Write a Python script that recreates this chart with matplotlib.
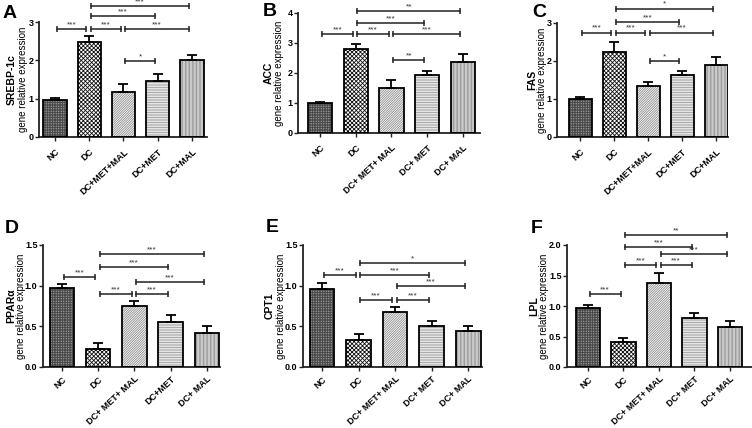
import numpy as np
import matplotlib
matplotlib.use('Agg')
import matplotlib.pyplot as plt
from matplotlib.transforms import offset_copy

plt.rcParams['font.family'] = ['Liberation Sans', 'DejaVu Sans']
plt.rcParams['hatch.linewidth'] = 0.6

# Daten
labels_plain = ['NC', 'DC', 'DC+MET+MAL', 'DC+MET', 'DC+MAL']
labels_spaced = ['NC', 'DC', 'DC+ MET+ MAL', 'DC+ MET', 'DC+ MAL']
labels_d = ['NC', 'DC', 'DC+ MET+ MAL', 'DC+MET', 'DC+ MAL']

srebp_mean = [0.97, 2.48, 1.18, 1.47, 2.02]
srebp_sem = [0.04, 0.15, 0.20, 0.17, 0.13]
acc_mean = [1.00, 2.80, 1.50, 1.95, 2.38]
acc_sem = [0.05, 0.17, 0.28, 0.13, 0.24]
fas_mean = [1.00, 2.23, 1.33, 1.62, 1.90]
fas_sem = [0.05, 0.27, 0.13, 0.12, 0.20]
ppar_mean = [0.97, 0.22, 0.75, 0.55, 0.42]
ppar_sem = [0.05, 0.08, 0.06, 0.09, 0.09]
cpt_mean = [0.96, 0.33, 0.68, 0.51, 0.44]
cpt_sem = [0.07, 0.08, 0.06, 0.06, 0.07]
lpl_mean = [0.97, 0.41, 1.37, 0.80, 0.65]
lpl_sem = [0.05, 0.07, 0.17, 0.09, 0.11]

# Signifikanz: (gruppe1, gruppe2, hoehe, sterne)
srebp_sig = [(0, 1, 2.81, '***'), (1, 2, 2.81, '***'), (2, 4, 2.81, '***'),
             (1, 3, 3.15, '***'), (1, 4, 3.41, '***'), (2, 3, 1.97, '*')]
acc_sig = [(0, 1, 3.30, '***'), (1, 2, 3.30, '***'), (2, 4, 3.30, '***'),
           (1, 3, 3.66, '***'), (1, 4, 4.08, '**'), (2, 3, 2.44, '**')]
fas_sig = [(0, 1, 2.75, '***'), (1, 2, 2.75, '***'), (2, 4, 2.75, '***'),
           (1, 3, 3.03, '***'), (1, 4, 3.38, '*'), (2, 3, 1.99, '*')]
ppar_sig = [(0, 1, 1.11, '***'), (1, 2, 0.90, '***'), (2, 3, 0.90, '***'),
            (1, 3, 1.23, '***'), (2, 4, 1.04, '***'), (1, 4, 1.39, '***')]
cpt_sig = [(0, 1, 1.13, '***'), (1, 2, 0.82, '***'), (2, 3, 0.82, '***'),
           (2, 4, 1.00, '***'), (1, 3, 1.13, '***'), (1, 4, 1.28, '*')]
lpl_sig = [(0, 1, 1.19, '***'), (1, 2, 1.67, '***'), (2, 3, 1.67, '***'),
           (2, 4, 1.85, '***'), (1, 3, 1.96, '***'), (1, 4, 2.16, '**')]

# Muster je Gruppe
hatches = ['++++++++++', 'xxxxxxxx', '//////////////', '----------', '||||||||||||']
hatch_colors = ['#4a4a4a', '#111111', '#8a8a8a', '#9a9a9a', '#8a8a8a']
face_colors = ['#d4d4d4', 'white', 'white', 'white', 'white']

W, H = 752, 428


def px_axes(fig, l, r, b, t):
    return fig.add_axes([l / W, 1 - b / H, (r - l) / W, (b - t) / H])


def draw_panel(ax, mean, sem, labels, ylim, yticks, gene, sig, xlim, lab_dx, xpad=4.5):
    x = np.arange(len(mean))
    for i in range(len(mean)):
        ax.bar(x[i], mean[i], width=0.68, color=face_colors[i], hatch=hatches[i],
               edgecolor=hatch_colors[i], linewidth=0, zorder=2)
    ax.bar(x, mean, width=0.68, facecolor='none', edgecolor='black', linewidth=1.3, zorder=3)
    ax.errorbar(x, mean, yerr=[np.zeros(len(sem)), sem], fmt='none', ecolor='black',
                elinewidth=1.3, capsize=3.5, capthick=1.3, zorder=4)

    for i, j, y, star in sig:
        x1, x2 = i + 0.05, j - 0.08
        ax.plot([x1, x2], [y, y], color='#222222', lw=1.1, marker='|', ms=5,
                mew=1.1, clip_on=False, zorder=5)
        ax.annotate(star, xy=((x1 + x2) / 2, y), xytext=(0, 0.5), textcoords='offset points',
                    ha='center', va='bottom', fontsize=6, color='#333333',
                    annotation_clip=False)

    ax.set_xlim(xlim)
    ax.set_ylim(ylim)
    ax.set_yticks(yticks)
    ax.set_yticklabels([str(t) for t in yticks], fontsize=6.5, fontweight='bold')
    ax.set_xticks(x)
    ax.set_xticklabels(labels, rotation=43, ha='right', rotation_mode='anchor',
                       fontsize=6.5, fontweight='bold')
    for s in ['top', 'right']:
        ax.spines[s].set_visible(False)
    for s in ['left', 'bottom']:
        ax.spines[s].set_linewidth(1.3)
        ax.spines[s].set_color('#222222')
    ax.tick_params(axis='y', length=3, width=1, color='#222222', pad=1)
    ax.tick_params(axis='x', length=3, width=1, color='#222222', pad=xpad)
    ax.patch.set_alpha(0)

    fig = ax.figure
    t1 = offset_copy(ax.transAxes, fig=fig, x=lab_dx[0], y=0, units='dots')
    t2 = offset_copy(ax.transAxes, fig=fig, x=lab_dx[1], y=0, units='dots')
    ax.text(0, 0.5, 'gene relative expression', transform=t1, rotation=90,
            ha='center', va='center', fontsize=7)
    ax.text(0, 0.5, gene, transform=t2, rotation=90, ha='center', va='center',
            fontsize=7.5, fontweight='bold')


fig = plt.figure(figsize=(W / 100, H / 100), dpi=100)

axA = px_axes(fig, 39, 207, 137, 22)
draw_panel(axA, srebp_mean, srebp_sem, labels_plain, (0, 3), [0, 1, 2, 3], 'SREBP-1c',
           srebp_sig, (-0.467, 4.44), (-16, -27))
axB = px_axes(fig, 298, 480, 133, 13)
draw_panel(axB, acc_mean, acc_sem, labels_spaced, (0, 4), [0, 1, 2, 3, 4], 'ACC',
           acc_sig, (-0.615, 4.48), (-19, -29))
axC = px_axes(fig, 557, 728, 137, 23)
draw_panel(axC, fas_mean, fas_sem, labels_plain, (0, 3), [0, 1, 2, 3], 'FAS',
           fas_sig, (-0.68, 4.35), (-15, -25))
axD = px_axes(fig, 43, 220, 367, 245)
draw_panel(axD, ppar_mean, ppar_sem, labels_d, (0, 1.5), [0.0, 0.5, 1.0, 1.5], 'PPARα',
           ppar_sig, (-0.52, 4.36), (-22, -32), xpad=2.5)
axE = px_axes(fig, 303, 482, 367, 245)
draw_panel(axE, cpt_mean, cpt_sem, labels_spaced, (0, 1.5), [0.0, 0.5, 1.0, 1.5], 'CPT1',
           cpt_sig, (-0.52, 4.38), (-22, -33), xpad=2.5)
axF = px_axes(fig, 567, 752, 367, 245)
draw_panel(axF, lpl_mean, lpl_sem, labels_spaced, (0, 2.0), [0.0, 0.5, 1.0, 1.5, 2.0], 'LPL',
           lpl_sig, (-0.59, 4.62), (-23, -33), xpad=2.5)

# Panel-Buchstaben
for letter, (px, py) in zip('ABCDEF', [(3, 5), (263, 3), (532, 4), (5, 220), (266, 219), (531, 220)]):
    fig.text(px / W, 1 - py / H, letter, fontsize=14, fontweight='bold', va='top', ha='left')

fig.savefig('out.png', dpi=100)
